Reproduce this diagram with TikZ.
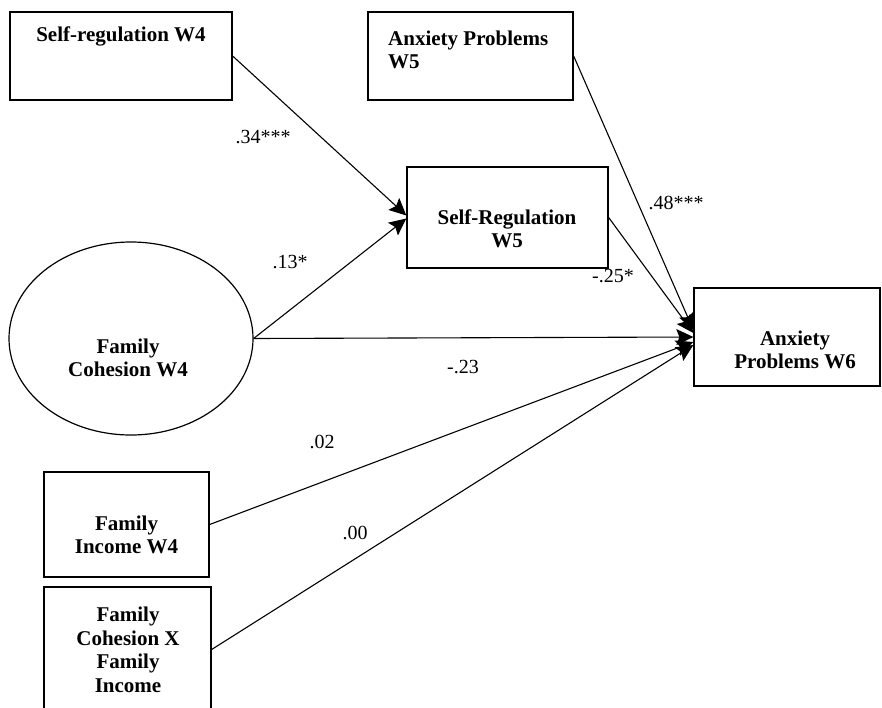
\documentclass[tikz,border=0pt]{standalone}
\usepackage{fontspec}
\setmainfont{Liberation Serif}
\usetikzlibrary{arrows.meta,shapes.geometric,fit}
\begin{document}
\begin{tikzpicture}[x=1pt,y=-1pt,
  box/.style={draw, line width=1.3pt, inner sep=0pt},
  latent/.style={draw, ellipse, line width=1.2pt, inner sep=0pt},
  vname/.style={font=\fontsize{21}{23.5}\selectfont\bfseries, align=center, inner sep=0pt},
  coef/.style={font=\fontsize{20}{24}\selectfont, inner sep=0pt},
  path/.style={draw, line width=1.1pt, -{Stealth[length=17pt,width=16pt,inset=3pt]}}]
\useasboundingbox (0,0) rectangle (882,707);
\clip (0,0) rectangle (882,707);

% variables
\node[box, fit={(10,12) (232,100)}] (sr4) {};
\node[box, fit={(368,12) (573,100)}] (ap5) {};
\node[box, fit={(407,167) (608,268)}] (sr5) {};
\node[box, fit={(694,288) (880,386)}] (ap6) {};
\node[latent, minimum width=244, minimum height=193] (fc4) at (131,338.5) {};
\node[box, fit={(44,472) (209,577)}] (fi4) {};
\node[box, fit={(44,587) (211,712)}] (fxi) {};

% variable names
\node[vname] (sr4t) at (121,36) {Self-regulation W4};
\node[vname, align=left, anchor=west] (ap5t) at (388,50) {Anxiety Problems\\W5};
\node[vname] (sr5t) at (507,229) {Self-Regulation\\W5};
\node[vname] (ap6t) at (795,350) {Anxiety\\Problems W6};
\node[vname] (fc4t) at (128,358) {Family\\Cohesion W4};
\node[vname] (fi4t) at (126.5,535) {Family\\Income W4};
\node[vname] (fxit) at (128,650) {Family\\Cohesion X\\Family\\Income};

% paths
\draw[path] (sr4.east) -- ([yshift=2pt]sr5.west);
\draw[path] (fc4.east) -- ([yshift=-1pt]sr5.west);
\draw[path] (ap5.east) -- ([yshift=7pt]ap6.west);
\draw[path] (sr5.east) -- ([yshift=4pt]ap6.west);
\draw[path] (fc4.east) -- (ap6.west);
\draw[path] (fi4.east) -- ([yshift=-5pt]ap6.west);
\draw[path] (fxi.east) -- ([yshift=-8pt]ap6.west);

% coefficients
\node[coef] (c1) at (263,137) {.34***};
\node[coef] (c2) at (290,262) {.13*};
\node[coef] (c3) at (676,203) {.48***};
\node[coef] (c4) at (613,276) {-.25*};
\node[coef] (c5) at (463,367) {-.23};
\node[coef] (c6) at (322,442) {.02};
\node[coef] (c7) at (355,533) {.00};
\end{tikzpicture}
\end{document}
